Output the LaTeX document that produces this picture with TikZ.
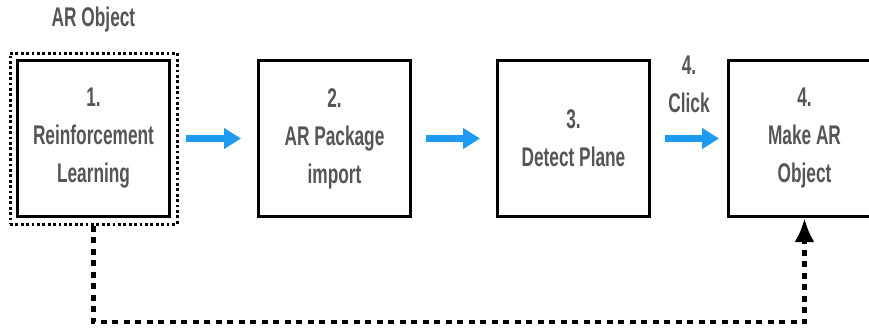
\documentclass[tikz,border=0pt]{standalone}
\usepackage{fontspec}
\setmainfont{Liberation Sans}
\newfontfamily\condfont[FakeStretch=0.64]{Liberation Sans}
\usepackage{xcolor}
\usetikzlibrary{arrows.meta, positioning, fit}

\definecolor{txtgray}{HTML}{555555}
\definecolor{flowblue}{HTML}{1E9BF0}

\begin{document}
\begin{tikzpicture}[
    x=0.5pt, y=0.5pt,
    txt/.style={font=\condfont\bfseries\fontsize{13.5}{19}\selectfont, text=txtgray, align=center},
    stepbox/.style={txt, draw=black, line width=1.5pt, minimum width=76pt, minimum height=78pt, inner sep=0pt},
    dotbox/.style={draw=black, line width=1.5pt, dash pattern=on 1.4pt off 1.3pt, inner sep=3pt},
    flow/.style={-{Triangle[length=8.5pt,width=10pt]}, draw=flowblue, line width=3.5pt},
    back/.style={-{Latex[length=12pt,width=10pt]}, line width=2.4pt, dash pattern=on 3pt off 2.75pt}
]
    \useasboundingbox (0,0) rectangle (869,329);

    % steps
    \node[stepbox] (rl) at (93.5,190.5) {1.\\Reinforcement\\Learning};
    \node[stepbox, right=43pt of rl] (pkg) {2.\\AR Package\\import};
    \node[stepbox, right=42pt of pkg] (plane) {3.\\Detect Plane};
    \node[stepbox, right=38pt of plane] (make) {4.\\Make AR\\Object};

    % AR object frame
    \node[dotbox, fit=(rl)] (arobj) {};
    \node[txt, above=6pt of arobj] (artitle) {AR Object};

    % flow
    \draw[flow, shorten <=7.5pt, shorten >=8pt] (rl) -- (pkg);
    \draw[flow, shorten <=7pt, shorten >=8pt] (pkg) -- (plane);
    \draw[flow, shorten <=7pt, shorten >=4pt] (plane) -- node[txt, above=8pt] (click) {4.\\Click} (make);

    % loop back
    \coordinate (loop) at (96,7);
    \draw[back] (arobj.south) -- (arobj.south |- loop) -| (make.south);
\end{tikzpicture}
\end{document}
